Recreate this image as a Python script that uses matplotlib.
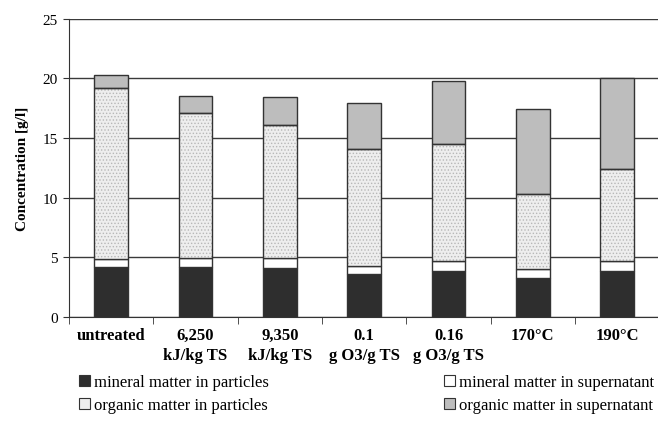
import numpy as np
import matplotlib.pyplot as plt
from matplotlib.patches import Patch

plt.rcParams['font.family'] = ['Liberation Serif', 'DejaVu Serif']
plt.rcParams['hatch.linewidth'] = 0.6

categories = ['untreated', '6,250\nkJ/kg TS', '9,350\nkJ/kg TS', '0.1\ng O3/g TS',
              '0.16\ng O3/g TS', '170°C', '190°C']
mineral_particles = [4.19, 4.19, 4.13, 3.60, 3.88, 3.27, 3.83]
mineral_supernatant = [0.64, 0.73, 0.79, 0.65, 0.78, 0.73, 0.86]
organic_particles = [14.39, 12.20, 11.17, 9.80, 9.81, 6.28, 7.68]
organic_supernatant = [1.03, 1.40, 2.35, 3.85, 5.28, 7.12, 7.69]

fig = plt.figure(figsize=(6.58, 4.27), dpi=100)
ax = fig.add_axes([0.105, 0.255, 0.897, 0.699])

x = np.arange(len(categories))
w = 0.40
edge = '#333333'

mp = np.array(mineral_particles)
ms = np.array(mineral_supernatant)
op = np.array(organic_particles)
os_ = np.array(organic_supernatant)

ax.bar(x, mp, w, color='#2e2e2e', edgecolor=edge, lw=1.0, zorder=3)
ax.bar(x, ms, w, bottom=mp, color='white', edgecolor=edge, lw=1.0, zorder=3)
# dotted fill then outline
ax.bar(x, op, w, bottom=mp + ms, color='#eeeeee', edgecolor='#b8b8b8', hatch='.....', lw=0, zorder=3)
ax.bar(x, op, w, bottom=mp + ms, color='none', edgecolor=edge, lw=1.0, zorder=4)
ax.bar(x, os_, w, bottom=mp + ms + op, color='#bdbdbd', edgecolor=edge, lw=1.0, zorder=3)

ax.set_ylim(0, 25)
ax.set_xlim(-0.5, len(categories) - 0.5)
ax.set_yticks(range(0, 26, 5))
ax.yaxis.grid(True, color='#3a3a3a', lw=1.0, zorder=0)
ax.set_ylabel('Concentration [g/l]', fontsize=11, fontweight='bold', labelpad=10)

ax.set_xticks(x)
ax.set_xticklabels(categories, fontsize=12, fontweight='bold', linespacing=1.35)
ax.tick_params(axis='x', length=0, pad=7)
ax.set_xticks(np.arange(-0.5, len(categories), 1), minor=True)
ax.tick_params(axis='x', which='minor', length=5, color='#333333', direction='out')
ax.tick_params(axis='y', labelsize=11, length=4, color='#333333', pad=4)
ax.spines['top'].set_visible(False)
ax.spines['right'].set_visible(False)
ax.spines['left'].set_color('#333333')
ax.spines['bottom'].set_color('#333333')

handles = [
    Patch(facecolor='#2e2e2e', edgecolor=edge, lw=0.8, label='mineral matter in particles'),
    Patch(facecolor='#eeeeee', edgecolor=edge, lw=0.8, label='organic matter in particles'),
    Patch(facecolor='white', edgecolor=edge, lw=0.8, label='mineral matter in supernatant'),
    Patch(facecolor='#bdbdbd', edgecolor=edge, lw=0.8, label='organic matter in supernatant'),
]
fig.legend(handles=handles, ncol=2, loc='lower left', bbox_to_anchor=(0.097, -0.005),
           frameon=False, fontsize=12, handlelength=0.65, handleheight=0.65,
           handletextpad=0.25, columnspacing=10.5, labelspacing=0.42)

fig.savefig('out.png', dpi=100)
